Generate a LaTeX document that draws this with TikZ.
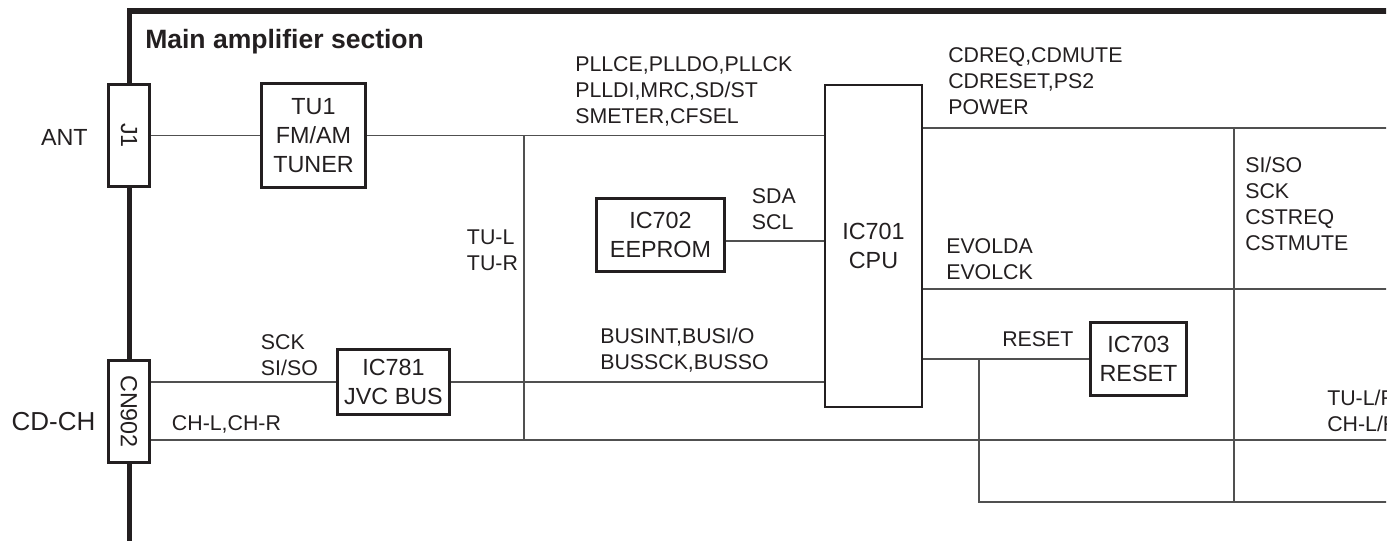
\documentclass[tikz,border=0pt]{standalone}
\usepackage{fontspec}
\usepackage{graphicx}
\setmainfont{Liberation Sans}
\definecolor{tinta}{HTML}{231F20}
\definecolor{hilo}{HTML}{505050}
\tikzset{
  marco/.style={draw=tinta, line width=4.2pt, line join=miter},
  cable/.style={draw=hilo, line width=1pt},
  bloque/.style={draw=tinta, line width=2pt, fill=white, text=tinta, align=center,
    inner sep=0pt, font=\fontsize{17.5}{21.75}\selectfont},
  tam/.style 2 args={minimum width=#1*0.75pt, minimum height=#2*0.75pt},
  etiq/.style={text=tinta, inner sep=0pt, align=left, anchor=west,
    font=\fontsize{16}{19.5}\selectfont},
}
\begin{document}
\begin{tikzpicture}[x=0.75pt, y=-0.75pt]
    \useasboundingbox (0,0) rectangle (1399,540);
    \clip (0,0) rectangle (1386,540);
    % Marco
    \draw[marco] (129.5,560) -- (129.5,11) -- (1420,11);
    % Bloques
    \node[bloque, tam={41.5}{102.5}] (j1) at (129,135.5) {\rotatebox{-90}{J1}};
    \node[bloque, tam={104.5}{104.5}] (tu1) at (313.5,135.5) {TU1\\FM/AM\\TUNER};
    \node[bloque, tam={128.5}{73.5}] (eeprom) at (660.5,235) {IC702\\EEPROM};
    \node[bloque, line width=1.8pt, tam={96.5}{321.5}] (cpu) at (873.5,246) {IC701\\CPU};
    \node[bloque, tam={112.5}{65.5}] (jvcbus) at (393.5,382) {IC781\\JVC BUS};
    \node[bloque, tam={96.5}{73.5}] (reset) at (1138.5,359) {IC703\\RESET};
    \node[bloque, tam={41.5}{102.5}] (cn902) at (129,411.5) {\rotatebox{-90}{CN902}};
    % Puntos de las líneas
    \coordinate (nudo) at (524,135.5);
    \coordinate (audio) at (524,440);
    \coordinate (i2c) at (0,241);
    \coordinate (cdbus) at (1234,128);
    \coordinate (evol) at (1234,289);
    \coordinate (cola) at (979,502);
    \coordinate (borde) at (1420,0);
    % Líneas
    \begin{scope}[on background layer/.try]
    \draw[cable] (j1) -- (tu1);
    \draw[cable] (tu1) -- (tu1 -| cpu.west);
    \draw[cable] (nudo) -- (audio);
    \draw[cable] (eeprom.east |- i2c) -- (cpu.west |- i2c);
    \draw[cable] (jvcbus -| cn902.east) -- (jvcbus);
    \draw[cable] (jvcbus) -- (jvcbus -| cpu.west);
    \draw[cable] (audio -| cn902.east) -- (audio -| borde);
    \draw[cable] (cpu.east |- cdbus) -- (cdbus -| borde);
    \draw[cable] (cpu.east |- evol) -- (evol -| borde);
    \draw[cable] (cdbus) -- (cdbus |- cola);
    \draw[cable] (reset -| cpu.east) -- (reset);
    \draw[cable] (reset -| cola) -- (cola) -- (cola -| borde);
    \end{scope}
    % Textos
    \node[text=tinta, inner sep=0pt, anchor=base west, font=\bfseries\fontsize{19.9}{24}\selectfont]
        (titulo) at (145,48.3) {Main amplifier section};
    \node[text=tinta, inner sep=0pt, anchor=base east, font=\fontsize{17.5}{21}\selectfont]
        (ant) at (88,145) {ANT};
    \node[text=tinta, inner sep=0pt, anchor=base east, font=\fontsize{19.5}{23}\selectfont]
        (cdch) at (95.7,430.7) {CD-CH};
    \node[etiq] (pll) at (575,91.5) {PLLCE,PLLDO,PLLCK\\PLLDI,MRC,SD/ST\\SMETER,CFSEL};
    \node[etiq] (cdctl) at (948,81.4) {CDREQ,CDMUTE\\CDRESET,PS2\\POWER};
    \node[etiq] (sdascl) at (751.7,208.7) {SDA\\SCL};
    \node[etiq] (tulr) at (466.7,250.7) {TU-L\\TU-R};
    \node[etiq] (evollab) at (946,259.5) {EVOLDA\\EVOLCK};
    \node[etiq] (cslab) at (1245,204) {SI/SO\\SCK\\CSTREQ\\CSTMUTE};
    \node[etiq, anchor=base west] (resetlab) at (1002,346.7) {RESET};
    \node[etiq] (buslab) at (600,350) {BUSINT,BUSI/O\\BUSSCK,BUSSO};
    \node[etiq] (sislab) at (260.7,355.2) {SCK\\SI/SO};
    \node[etiq, anchor=base west] (chlab) at (171.7,430) {CH-L,CH-R};
    \node[etiq] (salida) at (1327,411) {TU-L/R\\CH-L/R};
\end{tikzpicture}
\end{document}
